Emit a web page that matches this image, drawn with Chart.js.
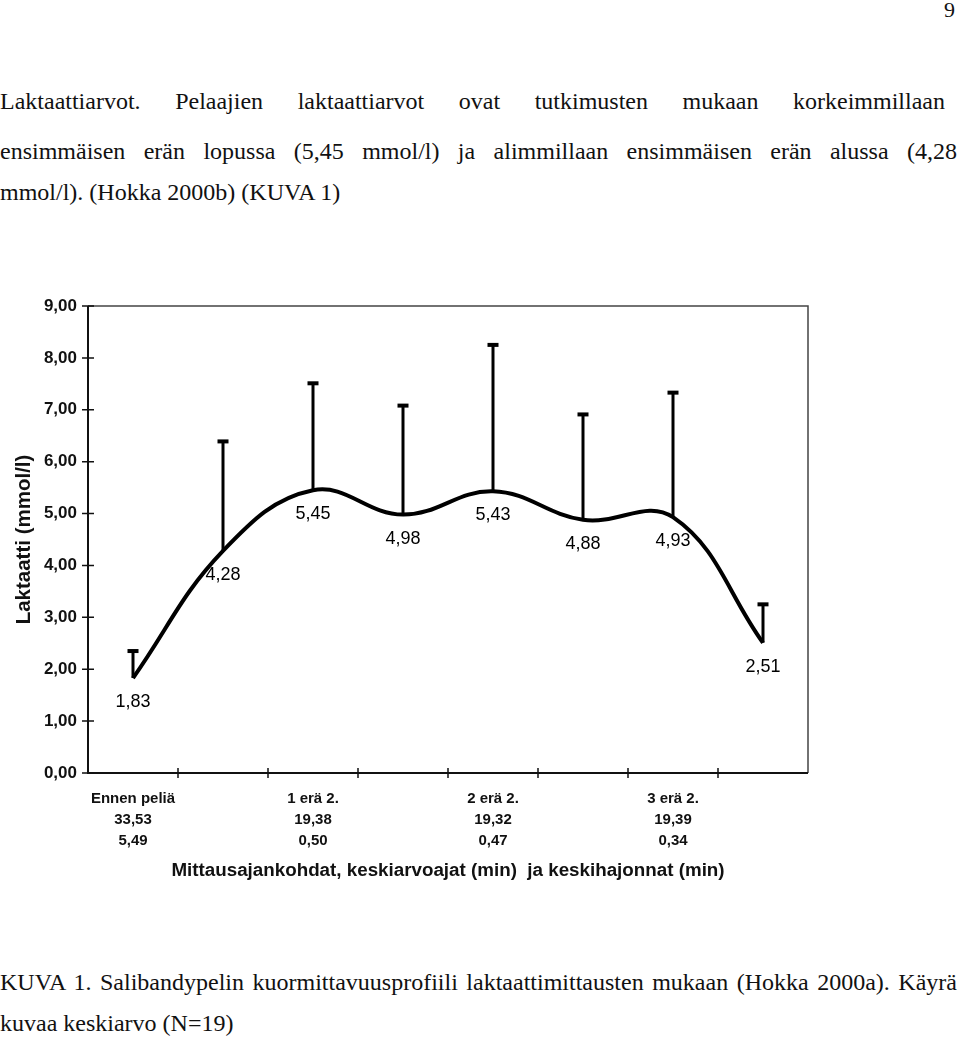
<!DOCTYPE html>
<html lang="fi">
<head>
<meta charset="utf-8">
<script src="https://cdn.jsdelivr.net/npm/chart.js@4"></script>
<style>
  html, body { margin: 0; padding: 0; background: #fff; }
  body { width: 960px; height: 1039px; position: relative; overflow: hidden;
         font-family: "Liberation Serif", "Times New Roman", serif; color: #111; }
  .ln { position: absolute; left: 0; font-size: 24px; line-height: 24px; white-space: nowrap; }
  .just { text-align: justify; text-align-last: justify; white-space: normal; }
  #wrap { position: absolute; left: 0; top: 280px; width: 840px; height: 620px; }
</style>
</head>
<body>
<div class="ln" style="left:944px; top:-2px; font-size:22px;">9</div>
<div class="ln just" style="top:89px; width:945px;">Laktaattiarvot. Pelaajien laktaattiarvot ovat tutkimusten mukaan korkeimmillaan</div>
<div class="ln just" style="top:139px; width:957px;">ensimmäisen erän lopussa (5,45 mmol/l) ja alimmillaan ensimmäisen erän alussa (4,28</div>
<div class="ln" style="top:180px;">mmol/l). (Hokka 2000b) (KUVA 1)</div>

<div id="wrap"><canvas id="myChart"></canvas></div>

<div class="ln just" style="top:970px; width:957px;">KUVA 1. Salibandypelin kuormittavuusprofiili laktaattimittausten mukaan (Hokka 2000a). Käyrä</div>
<div class="ln" style="top:1011px;">kuvaa keskiarvo (N=19)</div>

<script>
// mittausajankohdat (vain joka toinen kategoria on nimetty)
const timeNames = ["Ennen peliä", "", "1 erä 2.", "", "2 erä 2.", "", "3 erä 2.", ""];
const meanTimes = ["33,53", "", "19,38", "", "19,32", "", "19,39", ""];
const sdTimes   = ["5,49", "", "0,50", "", "0,47", "", "0,34", ""];

// laktaatti keskiarvo ja keskiarvo + keskihajonta (yläviiksi)
const lactate = [1.83, 4.28, 5.45, 4.98, 5.43, 4.88, 4.93, 2.51];
const upper   = [2.36, 6.40, 7.52, 7.09, 8.26, 6.92, 7.34, 3.26];

const labels = timeNames.map((n, i) => n ? [n, meanTimes[i], sdTimes[i]] : "");
const fmt = v => v.toFixed(2).replace('.', ',');
const sans = '"Liberation Sans", Arial, sans-serif';

const frame = {
  id: 'frame',
  beforeDatasetsDraw(chart) {
    const { ctx, chartArea: a, scales: { x, y } } = chart;
    ctx.save();
    ctx.lineCap = 'butt';
    ctx.strokeStyle = '#444';
    ctx.lineWidth = 1.5;
    ctx.beginPath();
    ctx.moveTo(a.left, a.top); ctx.lineTo(a.right, a.top); ctx.lineTo(a.right, a.bottom);
    ctx.stroke();
    ctx.strokeStyle = '#111';
    ctx.lineWidth = 2;
    ctx.beginPath();
    ctx.moveTo(a.left, a.top); ctx.lineTo(a.left, a.bottom); ctx.lineTo(a.right, a.bottom);
    ctx.stroke();
    ctx.lineWidth = 1.5;
    ctx.beginPath();
    y.ticks.forEach(t => {
      const py = y.getPixelForValue(t.value);
      ctx.moveTo(a.left - 6, py); ctx.lineTo(a.left + 6, py);
    });
    for (let i = 1; i < labels.length; i++) {
      const px = (x.getPixelForValue(i - 1) + x.getPixelForValue(i)) / 2;
      ctx.moveTo(px, a.bottom - 5); ctx.lineTo(px, a.bottom + 5);
    }
    ctx.stroke();
    ctx.restore();
  },
  afterDatasetsDraw(chart) {
    const { ctx, scales: { x, y } } = chart;
    ctx.save();
    ctx.strokeStyle = '#000';
    ctx.fillStyle = '#000';
    lactate.forEach((v, i) => {
      const px = x.getPixelForValue(i);
      const y0 = y.getPixelForValue(v);
      const y1 = y.getPixelForValue(upper[i]);
      ctx.lineWidth = 3;
      ctx.beginPath();
      ctx.moveTo(px, y0); ctx.lineTo(px, y1);
      ctx.stroke();
      ctx.fillRect(px - 5.5, y1 - 1.5, 11, 4);
      // arvo pisteen alle
      ctx.font = '18px ' + sans;
      ctx.textAlign = 'center';
      ctx.textBaseline = 'middle';
      ctx.fillText(fmt(v), px, y0 + 24);
    });
    ctx.restore();
  }
};

new Chart(document.getElementById('myChart'), {
  type: 'line',
  data: {
    labels: labels,
    datasets: [{
      data: lactate,
      borderColor: '#000',
      borderWidth: 4,
      tension: 0.4,
      pointRadius: 0,
      fill: false
    }]
  },
  options: {
    responsive: true,
    maintainAspectRatio: false,
    animation: false,
    layout: { padding: { top: 26, right: 32, left: 0, bottom: 0 } },
    plugins: { legend: { display: false }, tooltip: { enabled: false } },
    scales: {
      x: {
        offset: true,
        grid: { display: false, drawTicks: false },
        border: { display: false },
        ticks: {
          autoSkip: false,
          maxRotation: 0,
          padding: 15.5,
          color: '#111',
          font: { family: sans, size: 15, weight: 'bold', lineHeight: 1.4 }
        },
        title: {
          display: true,
          text: 'Mittausajankohdat, keskiarvoajat (min)  ja keskihajonnat (min)',
          color: '#111',
          font: { family: sans, size: 18.8, weight: 'bold' },
          padding: { top: 0, bottom: 17.7 }
        },
        afterFit: (scale) => { scale.height = 127; }
      },
      y: {
        min: 0,
        max: 9,
        grid: { display: false, drawTicks: false },
        border: { display: false },
        ticks: {
          stepSize: 1,
          padding: 11,
          color: '#111',
          callback: (v) => fmt(v),
          font: { family: sans, size: 17, weight: 'bold' }
        },
        title: {
          display: true,
          text: 'Laktaatti (mmol/l)',
          color: '#111',
          font: { family: sans, size: 20.5, weight: 'bold' },
          padding: { top: 12.5, bottom: 0 }
        },
        afterFit: (scale) => { scale.width = 88; }
      }
    }
  },
  plugins: [frame]
});
</script>
</body>
</html>
